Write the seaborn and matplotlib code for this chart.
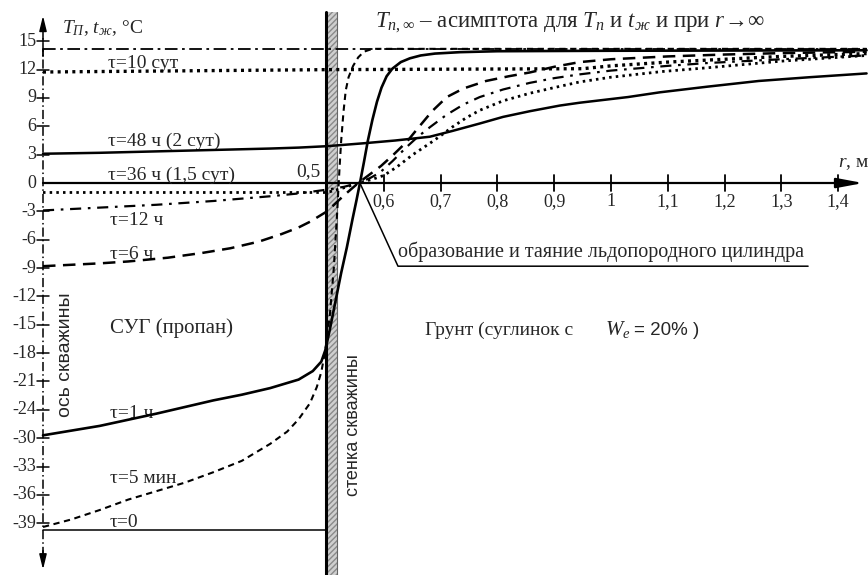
import matplotlib
matplotlib.use("Agg")
import matplotlib.pyplot as plt
from matplotlib.patches import Rectangle
import seaborn as sns

# radius r, m / temperature T, deg C (y in axis-position units)
r_asym = [0.0, 1.45]
T_asym = [14.2, 14.2]

r_tau0 = [0.0, 0.497]
T_tau0 = [-36.7, -36.7]

r_5min = [0, 0.05, 0.1, 0.15, 0.2, 0.25, 0.3, 0.35, 0.4, 0.43, 0.45, 0.47, 0.482, 0.49, 0.497,
          0.505, 0.512, 0.518, 0.522, 0.525, 0.529, 0.533, 0.538, 0.546, 0.555, 0.565, 0.58, 0.62, 1.45]
T_5min = [-36.4, -35.6, -34.6, -33.5, -32.6, -31.7, -30.6, -29.4, -27.6, -26.3, -25.0, -23.3, -21.6, -20.0, -17.7,
          -14.0, -9.0, -3.0, 1.5, 4.5, 7.5, 9.8, 11.2, 12.4, 13.3, 13.9, 14.2, 14.2, 14.2]

r_1h = [0, 0.1, 0.2, 0.3, 0.35, 0.4, 0.45, 0.475, 0.49, 0.497, 0.505, 0.515, 0.525, 0.535, 0.545,
        0.552, 0.558, 0.565, 0.572, 0.58, 0.588, 0.596, 0.605, 0.615, 0.63, 0.646, 0.665, 0.69,
        0.734, 0.8, 1.0, 1.45]
T_1h = [-26.7, -25.7, -24.4, -23.0, -22.4, -21.7, -20.8, -19.9, -18.9, -17.7, -15.5, -12.5, -9.5, -6.8, -3.8,
        -1.8, 0.0, 2.2, 4.5, 6.7, 8.6, 10.1, 11.3, 12.1, 12.8, 13.2, 13.5, 13.7,
        13.85, 13.95, 14.0, 14.05]

r_6h = [0, 0.1, 0.15, 0.22, 0.28, 0.33, 0.38, 0.42, 0.45, 0.47, 0.5, 0.53, 0.555, 0.575, 0.595,
        0.617, 0.641, 0.66, 0.685, 0.711, 0.74, 0.78, 0.82, 0.857, 0.9, 0.945, 1.0, 1.1, 1.2, 1.3, 1.45]
T_6h = [-8.8, -8.5, -8.3, -7.9, -7.4, -6.9, -6.2, -5.4, -4.7, -4.1, -3.0, -1.3, 0.0, 0.9, 1.8,
        3.0, 4.4, 5.8, 7.6, 9.1, 10.0, 10.8, 11.3, 11.7, 12.3, 12.8, 13.1, 13.4, 13.6, 13.75, 13.9]

r_12h = [0, 0.1, 0.2, 0.3, 0.4, 0.45, 0.5, 0.53, 0.555, 0.575, 0.593, 0.615, 0.64, 0.66, 0.681,
         0.71, 0.74, 0.769, 0.81, 0.857, 0.9, 0.945, 1.0, 1.1, 1.17, 1.3, 1.45]
T_12h = [-2.9, -2.6, -2.3, -1.9, -1.4, -1.1, -0.7, -0.4, 0.0, 0.5, 1.1, 2.3, 3.8, 4.9, 5.9,
         7.2, 8.3, 9.1, 9.9, 10.6, 11.1, 11.5, 11.9, 12.4, 12.7, 13.1, 13.5]

r_36h = [0, 0.5, 0.53, 0.555, 0.58, 0.6, 0.623, 0.651, 0.681, 0.7, 0.72, 0.745, 0.769, 0.81,
         0.857, 0.9, 0.945, 1.0, 1.09, 1.17, 1.3, 1.45]
T_36h = [-1.0, -1.0, -0.5, 0.0, 0.4, 0.8, 1.7, 3.0, 4.2, 5.0, 5.9, 6.9, 7.7, 8.7,
         9.5, 10.1, 10.7, 11.2, 11.8, 12.2, 12.9, 13.5]

r_48h = [0, 0.1, 0.2, 0.3, 0.4, 0.45, 0.5, 0.563, 0.62, 0.681, 0.72, 0.769, 0.81, 0.857, 0.91,
         0.945, 1.03, 1.086, 1.17, 1.26, 1.35, 1.45]
T_48h = [3.1, 3.2, 3.35, 3.5, 3.65, 3.75, 3.9, 4.2, 4.5, 4.9, 5.5, 6.3, 7.0, 7.6, 8.2,
         8.5, 9.1, 9.6, 10.2, 10.8, 11.2, 11.6]

r_10d = [0, 0.5, 0.95, 1.0, 1.1, 1.2, 1.3, 1.45]
T_10d = [11.75, 12.0, 12.1, 12.4, 12.8, 13.1, 13.4, 13.7]

x_ticks = [0.6, 0.7, 0.8, 0.9, 1.0, 1.1, 1.2, 1.3, 1.4]
x_labels = ["0,6", "0,7", "0,8", "0,9", "1", "1,1", "1,2", "1,3", "1,4"]
y_ticks = [15, 12, 9, 6, 3, 0, -3, -6, -9, -12, -15, -18, -21, -24, -27, -30, -33, -36]
y_labels = ["15", "12", "9", "6", "3", "0", "-3", "-6", "-9", "-12", "-15", "-18", "-21", "-24",
            "-30", "-33", "-36", "-39"]

sns.set_style("white")
plt.rcParams["font.family"] = ["Liberation Serif", "DejaVu Serif"]
plt.rcParams["mathtext.fontset"] = "custom"
plt.rcParams["mathtext.rm"] = "Liberation Serif"
plt.rcParams["mathtext.it"] = "Liberation Serif:italic"
plt.rcParams["mathtext.bf"] = "Liberation Serif:bold"

fig = plt.figure(figsize=(8.68, 5.75), dpi=100)
ax = fig.add_axes([0, 0, 1, 1])
ax.set_xlim(-0.0757, 1.4525)
ax.set_ylim(-41.48, 19.37)
ax.axis("off")

# well wall
ax.add_patch(Rectangle((0.4965, -42), 0.0215, 60.1, facecolor="#cfcfcf", edgecolor="#8a8a8a",
                       hatch="//////", lw=0, zorder=1))
ax.plot([0.4975, 0.4975], [-42, 18.1], color="black", lw=2.2, zorder=2)
ax.plot([0.518, 0.518], [-42, 18.1], color="#666666", lw=0.8, zorder=2)

# axes
ax.plot([0, 0], [-39.5, 15.5], color="black", lw=1.1, dashes=(6, 2, 1, 2), zorder=3)
ax.annotate("", xy=(0, 18.0), xytext=(0, 14.6),
            arrowprops=dict(arrowstyle="-|>,head_length=0.9,head_width=0.22", color="black", lw=1.1))
ax.annotate("", xy=(0, -41.2), xytext=(0, -38.6),
            arrowprops=dict(arrowstyle="-|>,head_length=0.9,head_width=0.22", color="black", lw=1.1))
ax.plot([0, 1.41], [0, 0], color="black", lw=1.6, zorder=3)
ax.annotate("", xy=(1.449, 0), xytext=(1.40, 0),
            arrowprops=dict(arrowstyle="-|>,head_length=1.6,head_width=0.3", color="black", lw=1.6))

for t in y_ticks:
    if t != 0:
        ax.plot([-0.011, 0.011], [t, t], color="black", lw=1.1)
for t, lab in zip(y_ticks, y_labels):
    ax.text(-0.0115, t, lab, ha="right", va="center", fontsize=13)
for t, lab in zip(x_ticks, x_labels):
    ax.plot([t, t], [-0.8, 0.8], color="black", lw=1.3)
    ax.text(t, -2.0, lab, ha="center", va="center", fontsize=13)

# curves
curves = [
    (r_asym, T_asym, 1.3, (7, 2.5, 1.5, 2.5)),
    (r_10d, T_10d, 2.4, (0.9, 1.3)),
    (r_48h, T_48h, 1.8, None),
    (r_36h, T_36h, 2.0, (0.9, 1.5)),
    (r_12h, T_12h, 1.6, (5, 3, 1.2, 3)),
    (r_6h, T_6h, 1.8, (5, 3)),
    (r_1h, T_1h, 1.9, None),
    (r_5min, T_5min, 1.5, (3, 2.2)),
    (r_tau0, T_tau0, 1.1, None),
]
for rr, tt, lw, dash in curves:
    sns.lineplot(x=rr, y=tt, ax=ax, color="black", linewidth=lw, sort=False, estimator=None, zorder=4)
    line = ax.lines[-1]
    if dash is not None:
        line.set_dashes(dash)
ax.plot([0, 0], [14.2, 13.4], color="black", lw=1.3)

# annotation of ice cylinder
ax.plot([0.558, 0.625, 1.347], [0, -8.8, -8.8], color="black", lw=1.1)

fs = 14
sans = ["Liberation Sans", "DejaVu Sans"]
ax.text(0.033, 16.4, r"$T_{П}$, $t_{ж}$, °C", fontsize=fs, va="center")
ax.text(0.585, 17.0, r"$T_{п,\infty}$ – асимптота для $T_п$ и $t_ж$ и при $r\!\rightarrow\!\infty$",
        fontsize=16.5, va="center")
ax.text(0.114, 12.2, "τ=10 сут", fontsize=fs, va="baseline")
ax.text(0.114, 3.9, "τ=48 ч (2 сут)", fontsize=fs, va="baseline")
ax.text(0.114, 0.3, "τ=36 ч (1,5 сут)", fontsize=fs, va="baseline")
ax.text(0.468, 0.75, "0,5", fontsize=fs, va="baseline", ha="center")
ax.text(0.118, -4.4, "τ=12 ч", fontsize=fs, va="baseline")
ax.text(0.118, -8.0, "τ=6 ч", fontsize=fs, va="baseline")
ax.text(0.118, -15.9, "СУГ (пропан)", fontsize=15, va="baseline")
ax.text(0.118, -24.9, "τ=1 ч", fontsize=fs, va="baseline")
ax.text(0.118, -31.7, "τ=5 мин", fontsize=fs, va="baseline")
ax.text(0.118, -36.4, "τ=0", fontsize=fs, va="baseline")
ax.text(1.400, 1.7, r"$r$, м", fontsize=fs, va="baseline")
ax.text(0.625, -7.8, "образование и таяние льдопородного цилиндра", fontsize=14.5, va="baseline")
ax.text(0.673, -16.1, "Грунт (суглинок с", fontsize=fs, va="baseline")
ax.text(0.99, -16.1, r"$W_e$", fontsize=15, va="baseline")
ax.text(1.04, -16.1, "= 20% )", fontsize=13.5, va="baseline", family=sans)
ax.text(0.039, -18.2, "ось скважины", fontsize=14, rotation=90, ha="center", va="center", family=sans)
ax.text(0.546, -25.6, "стенка скважины", fontsize=13, rotation=90, ha="center", va="center", family=sans)

fig.savefig("out.png", dpi=100)
